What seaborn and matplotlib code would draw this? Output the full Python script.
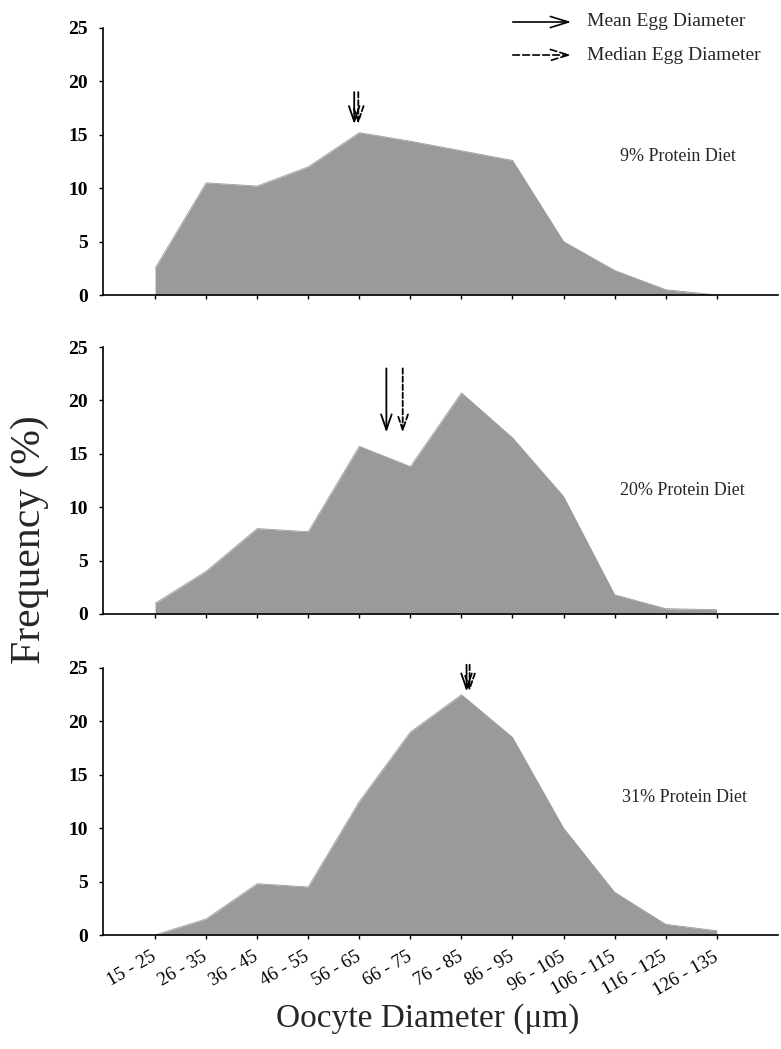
import matplotlib
matplotlib.use("Agg")
import matplotlib.pyplot as plt
from matplotlib.patches import FancyArrowPatch
import seaborn as sns
import numpy as np
import pandas as pd

# ---- data ----
categories = ["15 - 25", "26 - 35", "36 - 45", "46 - 55", "56 - 65", "66 - 75",
              "76 - 85", "86 - 95", "96 - 105", "106 - 115", "116 - 125", "126 - 135"]
diet_labels = ["9% Protein Diet", "20% Protein Diet", "31% Protein Diet"]
freq_9 = [2.5, 10.5, 10.2, 12.0, 15.2, 14.4, 13.5, 12.6, 5.0, 2.3, 0.5, 0.0]
freq_20 = [1.0, 4.0, 8.0, 7.7, 15.7, 13.8, 20.7, 16.5, 11.0, 1.8, 0.5, 0.4]
freq_31 = [0.0, 1.5, 4.8, 4.5, 12.5, 19.0, 22.5, 18.5, 10.0, 4.0, 1.0, 0.4]
# mean / median positions (in category-index units) and arrow spans (frequency units)
mean_pos = [3.90, 4.53, 6.10]
median_pos = [3.98, 4.85, 6.16]
arrow_tip = [16.0, 17.0, 22.8]
arrow_tail = [19.0, 23.0, 25.3]
y_ticks = [0, 5, 10, 15, 20, 25]

series = [freq_9, freq_20, freq_31]

sns.set_theme(style="ticks")
plt.rcParams['font.family'] = ['Liberation Serif', 'DejaVu Serif']

fig = plt.figure(figsize=(7.81, 10.49), dpi=100)
W, H = 781, 1049
# axes boxes in pixels: (left, top, right, bottom)
boxes = [(103, 28, 778, 295), (103, 347, 778, 614), (103, 668, 778, 935)]
label_pos = [(620, 157), (620, 490), (622, 798)]
fill_color = "#9a9a9a"

x_idx = np.arange(len(categories))
arrow_style = "->,head_length=1.1,head_width=0.38"
for k, (vals, box) in enumerate(zip(series, boxes)):
    l, t, r, b = box
    ax = fig.add_axes([l / W, 1 - b / H, (r - l) / W, (b - t) / H])
    df = pd.DataFrame({"x": x_idx, "freq": vals})
    ax.fill_between(df["x"], 0, df["freq"], color=fill_color, linewidth=0)
    sns.lineplot(data=df, x="x", y="freq", ax=ax, color=fill_color, linewidth=0.6)
    ax.set_xlim(-1.02, 12.2)
    ax.set_ylim(0, 25)
    ax.set_yticks(y_ticks)
    ax.set_yticklabels([str(v) for v in y_ticks], fontsize=14, fontweight='bold')
    ax.set_xticks(x_idx)
    if k == 2:
        ax.set_xticklabels(categories, rotation=30, ha='right', va='center',
                           rotation_mode='anchor', fontsize=13.5)
    else:
        ax.set_xticklabels([])
    ax.set_xlabel("")
    ax.set_ylabel("")
    for s in ["top", "right"]:
        ax.spines[s].set_visible(False)
    for s in ["left", "bottom"]:
        ax.spines[s].set_linewidth(1.2)
        ax.spines[s].set_color("black")
    ax.tick_params(axis='y', direction='out', length=3, width=1, colors='black', pad=8)
    ax.tick_params(axis='x', direction='out', length=3, width=1, colors='black', pad=12)
    # arrows
    ax.annotate("", xy=(mean_pos[k], arrow_tip[k]), xytext=(mean_pos[k], arrow_tail[k]),
                annotation_clip=False,
                arrowprops=dict(arrowstyle=arrow_style, mutation_scale=10,
                                color="black", lw=1.3, shrinkA=0, shrinkB=0))
    ax.annotate("", xy=(median_pos[k], arrow_tip[k]), xytext=(median_pos[k], arrow_tail[k]),
                annotation_clip=False,
                arrowprops=dict(arrowstyle=arrow_style, mutation_scale=10,
                                color="black", lw=1.3, ls=(0, (3, 1.5)),
                                shrinkA=0, shrinkB=0))
    lx, ly = label_pos[k]
    fig.text(lx / W, 1 - ly / H, diet_labels[k], fontsize=13, ha='left', va='center')

# legend
leg_style = "->,head_length=1.3,head_width=0.4"
fig.add_artist(FancyArrowPatch((510 / W, 1 - 22 / H), (574 / W, 1 - 22 / H),
               transform=fig.transFigure, arrowstyle=leg_style,
               color="black", lw=1.2, mutation_scale=10))
fig.add_artist(FancyArrowPatch((510 / W, 1 - 55 / H), (574 / W, 1 - 55 / H),
               transform=fig.transFigure, arrowstyle=leg_style,
               color="black", lw=1.2, ls=(0, (4, 2)), mutation_scale=10))
fig.text(587 / W, 1 - 22 / H, "Mean Egg Diameter", fontsize=14, ha='left', va='center')
fig.text(587 / W, 1 - 55 / H, "Median Egg Diameter", fontsize=14, ha='left', va='center')

fig.text(30 / W, 1 - 540 / H, "Frequency (%)", fontsize=30, rotation=90,
         ha='center', va='center')
fig.text(428 / W, 1 - 1019 / H, "Oocyte Diameter (\u03bcm)", fontsize=24,
         ha='center', va='center')

fig.savefig("out.png", dpi=100)
